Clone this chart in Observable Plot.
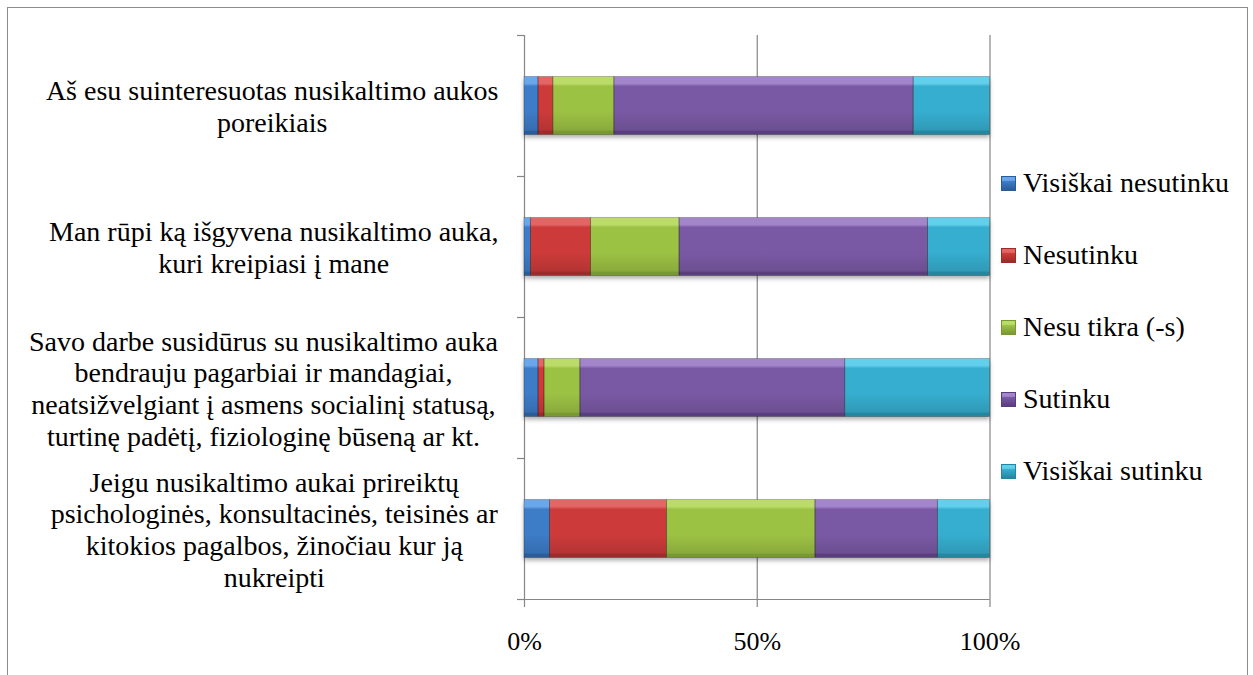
<!DOCTYPE html>
<html>
<head>
<meta charset="utf-8">
<script src="https://cdn.jsdelivr.net/npm/d3@7"></script>
<script src="https://cdn.jsdelivr.net/npm/@observablehq/plot@0.6"></script>
<style>
  html, body { margin: 0; padding: 0; background: #fff; }
  body { width: 1253px; height: 675px; position: relative; overflow: hidden; font-family: "Liberation Serif", "Times New Roman", serif; }
  #frame { position: absolute; left: 7px; top: 7px; width: 1241px; height: 720px; border: 1px solid #8c8c8c; box-sizing: border-box; }
  #chart { position: absolute; left: 0; top: 0; }
  .bars { filter: drop-shadow(0px 3px 2px rgba(0,0,0,0.32)); }
  #legend { position: absolute; left: 0; top: 0; }
  .lg-row { position: absolute; left: 1001px; height: 28px; display: flex; align-items: center; white-space: nowrap; font-family: "Liberation Serif", "Times New Roman", serif; }
  .lg-sw { width: 15px; height: 15px; box-sizing: border-box; margin-right: 7px; }
  .lg-tx { font-size: 28px; line-height: 28px; color: #000; }
</style>
</head>
<body>
<div id="frame"></div>
<svg id="defs" width="0" height="0" style="position:absolute"><defs id="gdefs"></defs></svg>
<div id="chart"></div>
<div id="legend"></div>
<script>
// ---------- data ----------
const categories = [
  "Aš esu suinteresuotas nusikaltimo aukos\nporeikiais",
  "Man rūpi ką išgyvena nusikaltimo auka,\nkuri kreipiasi į mane",
  "Savo darbe susidūrus su nusikaltimo auka\nbendrauju pagarbiai ir mandagiai,\nneatsižvelgiant į asmens socialinį statusą,\nturtinę padėtį, fiziologinę būseną ar kt.",
  "Jeigu nusikaltimo aukai prireiktų\npsichologinės, konsultacinės, teisinės ar\nkitokios pagalbos, žinočiau kur ją\nnukreipti"
];
const series = ["Visiškai nesutinku", "Nesutinku", "Nesu tikra (-s)", "Sutinku", "Visiškai sutinku"];
const visiskaiNesutinku = [3.0, 1.4, 3.0, 5.5];
const nesutinku         = [3.2, 12.9, 1.3, 25.1];
const nesuTikra         = [13.1, 19.0, 7.7, 31.9];
const sutinku           = [64.3, 53.4, 56.9, 26.3];
const visiskaiSutinku   = [16.4, 13.3, 31.1, 11.2];
const xTicks = [0, 50, 100];
const xTickLabels = ["0%", "50%", "100%"];

// ---------- styling ----------
const baseColors = ["#3d7cc7", "#cc3b3a", "#9cc244", "#7a59a4", "#36aecf"];
const lightColors = ["#6aa6ea", "#e26664", "#bcdc6a", "#a385cc", "#62d0ec"];
const darkColors = ["#2b5c9a", "#9c2b2a", "#789830", "#583e7e", "#22879f"];

const valuesBySeries = [visiskaiNesutinku, nesutinku, nesuTikra, sutinku, visiskaiSutinku];
const rows = [];
categories.forEach((c, i) => {
  series.forEach((s, j) => rows.push({cat: c, i, series: s, value: valuesBySeries[j][i]}));
});

// gradients for the bevel look
const defs = document.getElementById("gdefs");
const ns = "http://www.w3.org/2000/svg";
const gradIds = series.map((s, j) => {
  const g = document.createElementNS(ns, "linearGradient");
  g.setAttribute("id", "g" + j);
  g.setAttribute("x1", "0"); g.setAttribute("y1", "0"); g.setAttribute("x2", "0"); g.setAttribute("y2", "1");
  const stops = [[0, lightColors[j]], [0.12, lightColors[j]], [0.17, baseColors[j]], [0.6, baseColors[j]], [0.92, d3.color(baseColors[j]).darker(0.35).formatHex()], [0.95, darkColors[j]], [1, darkColors[j]]];
  stops.forEach(([o, c]) => {
    const st = document.createElementNS(ns, "stop");
    st.setAttribute("offset", o); st.setAttribute("stop-color", c);
    g.appendChild(st);
  });
  defs.appendChild(g);
  return "url(#g" + j + ")";
});

const W = 1253, H = 675, mL = 524, mR = 263.5, mT = 35, mB = 76;
const gray = "#868686";

const chart = Plot.plot({
  width: W, height: H,
  marginLeft: mL, marginRight: mR, marginTop: mT, marginBottom: mB,
  x: {domain: [0, 100], label: null},
  y: {domain: [0, categories.length], reverse: true, label: null},
  color: {domain: series, range: gradIds},
  style: {fontFamily: '"Liberation Serif", "Times New Roman", serif', background: "transparent", overflow: "visible", color: "#000"},
  marks: [
    Plot.ruleX(xTicks, {stroke: gray, strokeWidth: 1.2}),
    Plot.ruleY([categories.length], {stroke: gray, strokeWidth: 1.2}),
    Plot.rectX(rows, Plot.stackX({x: "value", y1: "i", y2: d => d.i + 1, fill: "series", insetTop: 41.5, insetBottom: 41.5, className: "bars"})),
    Plot.rectX(rows, Plot.stackX({x: "value", y1: "i", y2: d => d.i + 1, fill: "none", stroke: "rgba(0,0,0,0.28)", strokeWidth: 0.8, insetTop: 41.5, insetBottom: 41.5})),
    Plot.axisX({ticks: xTicks, tickFormat: d => xTickLabels[xTicks.indexOf(d)], tickSize: 8, tickPadding: 24, fontSize: 26, stroke: gray, strokeWidth: 1.2, fill: "#000", label: null}),
    Plot.axisY({ticks: d3.range(categories.length + 1), tickFormat: () => "", tickSize: 7, stroke: gray, strokeWidth: 1.2, label: null}),
    Plot.text(categories, {y: (d, i) => i + 0.5, text: d => d, frameAnchor: "left", textAnchor: "middle", lineAnchor: "middle", lineHeight: 1.13, fontSize: 28, fill: "#000", className: "catlab"})
  ]
});
document.getElementById("chart").appendChild(chart);

// right-align each label block 26px left of the axis, keeping its lines centred
const rightEdge = mL - 26;
chart.querySelectorAll("g.catlab text").forEach(t => {
  const b = t.getBBox();
  const dx = rightEdge - (mL + b.x + b.width);
  const old = t.getAttribute("transform") || "";
  t.setAttribute("transform", `translate(${dx},0) ` + old);
});

// legend
const legend = document.getElementById("legend");
const legendTop = 169; const legendStep = 72.1;
series.forEach((s, j) => {
  const row = document.createElement("div");
  row.className = "lg-row";
  row.style.top = (legendTop + legendStep * j) + "px";
  const sw = document.createElement("div");
  sw.className = "lg-sw";
  sw.style.background = `linear-gradient(to bottom, ${lightColors[j]} 0%, ${lightColors[j]} 25%, ${baseColors[j]} 35%, ${darkColors[j]} 100%)`;
  sw.style.border = `1px solid ${darkColors[j]}`;
  const tx = document.createElement("div");
  tx.className = "lg-tx";
  tx.textContent = s;
  row.appendChild(sw); row.appendChild(tx);
  legend.appendChild(row);
});
</script>
</body>
</html>
